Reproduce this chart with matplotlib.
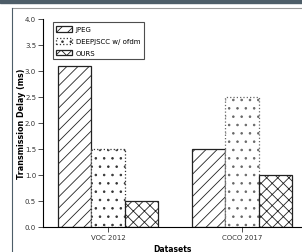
import numpy as np
import matplotlib
matplotlib.use('Agg')
from matplotlib import pyplot as plt
from matplotlib.patches import Rectangle
from matplotlib.lines import Line2D

datasets = ['VOC 2012', 'COCO 2017']
methods = ['JPEG', 'DEEPJSCC w/ ofdm', 'OURS']
jpeg = [3.1, 1.5]
deepjscc = [1.5, 2.5]
ours = [0.5, 1.0]

plt.rcParams['font.size'] = 5
plt.rcParams['hatch.linewidth'] = 0.6

fig = plt.figure(figsize=(3.02, 2.53), dpi=100)

# screenshot frame around the figure
fig.patches.append(Rectangle((0, 1 - 4 / 253), 1, 4 / 253, transform=fig.transFigure,
                             color='#4d5d68', zorder=0))
fig.lines.append(Line2D([12 / 302, 1], [1 - 9 / 253, 1 - 9 / 253], transform=fig.transFigure,
                        color='#9a9a9a', lw=0.8))
fig.lines.append(Line2D([12 / 302, 12 / 302], [0, 1 - 9 / 253], transform=fig.transFigure,
                        color='#4d5d68', lw=0.8))

ax = fig.add_axes([43 / 302, 25 / 253, 259 / 302, 208 / 253])

x = np.arange(len(datasets))
width = 0.25

ax.bar(x - width, jpeg, width, color='white', edgecolor='#222222', hatch='///', lw=0.9, label=methods[0])
b2 = ax.bar(x, deepjscc, width, color='white', edgecolor='#333333', hatch='..', lw=0.9, linestyle=':',
            label=methods[1])
b2[1].set_edgecolor('#666666')
ax.bar(x + width, ours, width, color='white', edgecolor='#222222', hatch='xxx', lw=0.9, label=methods[2])

ax.set_xlim(-0.485, 1.448)
ax.set_ylim(0, 4.0)
ax.set_yticks(np.arange(0, 4.01, 0.5))
ax.set_xticks(x)
ax.set_xticklabels(datasets)
ax.spines['top'].set_visible(False)
ax.spines['right'].set_visible(False)
ax.tick_params(length=3.5, width=0.6, pad=1.5, colors='#333333')
for s in ['left', 'bottom']:
    ax.spines[s].set_linewidth(0.8)

ax.set_ylabel('Transmission Delay (ms)', fontweight='bold', fontsize=5.8)
ax.yaxis.set_label_coords(-0.066, 0.5)
ax.set_xlabel('Datasets', fontweight='bold', fontsize=5.5, labelpad=3)

leg = ax.legend(loc='upper left', bbox_to_anchor=(0.025, 1.0), fancybox=False, edgecolor='#222222',
                handlelength=2.2, handleheight=0.9, fontsize=5, borderpad=0.5, labelspacing=0.8,
                handletextpad=0.6)
leg.get_frame().set_linewidth(0.8)

plt.savefig('out.png', dpi=100)
